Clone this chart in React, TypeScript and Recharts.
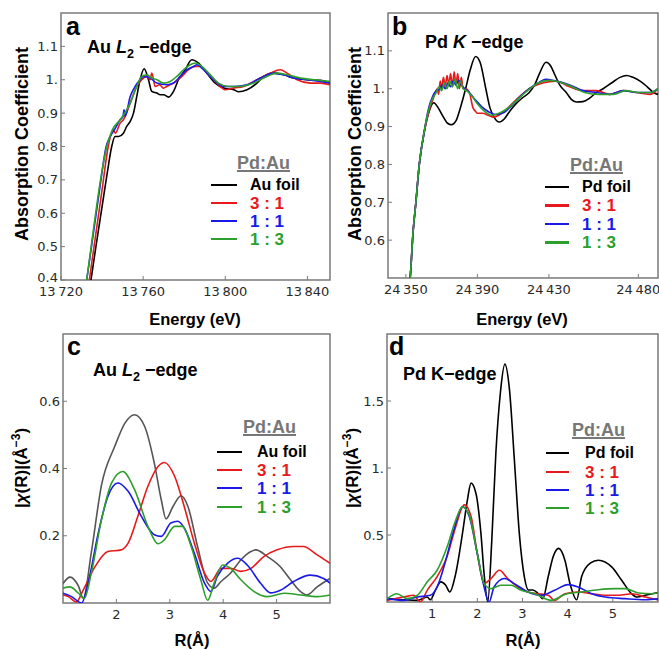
import type { ReactNode } from "react";
import { LineChart, Line, XAxis, YAxis, ReferenceArea } from "recharts";

// XANES, Au L2-edge (energy eV, normalized absorption)
const auFoilXanes = [
  [13732, 0.3], [13734.6, 0.4], [13737, 0.5], [13740, 0.62], [13742.5, 0.72], [13744.7, 0.8], [13746.3, 0.83],
  [13748, 0.83], [13750.4, 0.84], [13752, 0.86], [13753.7, 0.875], [13755.3, 0.9], [13756.9, 0.95], [13758.5, 1.0],
  [13760.5, 1.033], [13762.6, 1.0], [13764.2, 0.965], [13766.7, 0.96], [13768.3, 0.955], [13770, 0.955],
  [13772.4, 0.948], [13774.8, 0.965], [13777.2, 1.0], [13780.5, 1.03], [13783.7, 1.06], [13787, 1.05], [13791, 1.02],
  [13795.1, 0.99], [13799.2, 0.975], [13804.1, 0.97], [13806.5, 0.964], [13810.6, 0.97], [13815.4, 0.99],
  [13818.7, 1.01], [13823.6, 1.02], [13828.5, 1.015], [13833.3, 1.005], [13839.8, 1.0], [13846.3, 0.998], [13851, 0.99],
];
const au31Xanes = [
  [13731.5, 0.3], [13733.8, 0.4], [13737, 0.54], [13740, 0.67], [13743, 0.8], [13745.5, 0.85], [13746.5, 0.84],
  [13748.8, 0.87], [13750.4, 0.88], [13753.7, 0.93], [13756.9, 0.98], [13759.3, 1.0], [13761.8, 1.01],
  [13763.4, 1.0], [13764.2, 1.02], [13765.9, 0.98], [13768, 0.985], [13769.9, 0.975], [13771.5, 0.98],
  [13774.8, 0.99], [13778.9, 1.01], [13782.1, 1.03], [13785.4, 1.04], [13787.8, 1.04], [13791, 1.02],
  [13795.9, 0.99], [13800, 0.97], [13804.1, 0.975], [13808.9, 0.98], [13815.4, 1.0], [13822, 1.02],
  [13826.8, 1.03], [13830.1, 1.02], [13835, 1.0], [13841.5, 0.99], [13846.3, 0.99], [13851, 0.985],
];
const au11Xanes = [
  [13730, 0.3], [13732.5, 0.4], [13736, 0.55], [13739, 0.68], [13742, 0.8], [13744, 0.83], [13746, 0.85],
  [13748.8, 0.88], [13750.2, 0.89], [13750.7, 0.91], [13751.2, 0.89], [13753.7, 0.95], [13756.1, 0.98],
  [13758.5, 1.0], [13760.2, 1.01], [13763.4, 1.005], [13766.7, 0.99], [13771.5, 0.985], [13774.8, 0.99],
  [13778, 1.01], [13781.3, 1.03], [13784.6, 1.04], [13786.2, 1.045], [13789.4, 1.03], [13794.3, 1.0],
  [13799.2, 0.98], [13804.1, 0.98], [13810.6, 0.985], [13817.1, 1.005], [13823.6, 1.02], [13828.5, 1.015],
  [13833.3, 1.005], [13839.8, 1.0], [13846.3, 0.995], [13851, 0.99],
];
const au13Xanes = [
  [13730, 0.3], [13732.5, 0.4], [13736, 0.56], [13739, 0.69], [13742.3, 0.8], [13745, 0.85], [13748.8, 0.88],
  [13753.7, 0.93], [13756.9, 0.98], [13759.3, 1.01], [13761.8, 1.015], [13764.2, 1.005], [13766.7, 1.0],
  [13769.9, 0.99], [13773.2, 0.995], [13776.4, 1.01], [13779.7, 1.03], [13782.9, 1.045], [13785.4, 1.05],
  [13788.6, 1.04], [13791.9, 1.02], [13796.7, 0.99], [13801.6, 0.98], [13807.3, 0.98], [13813.8, 0.99],
  [13820.3, 1.01], [13825.2, 1.02], [13830.1, 1.015], [13836.6, 1.005], [13843.1, 1.0], [13851, 0.995],
];

// XANES, Pd K-edge
const pdFoilXanes = [
  [24351, 0.45], [24352.4, 0.5], [24354, 0.62], [24355.6, 0.7], [24357.5, 0.8], [24360.9, 0.9], [24363, 0.94],
  [24365.6, 0.963], [24368, 0.95], [24371, 0.925], [24373.5, 0.908], [24375.5, 0.905], [24378, 0.915],
  [24380.5, 0.95], [24383.4, 1.0], [24386, 1.05], [24389, 1.085], [24391.5, 1.07], [24394.7, 1.0], [24397, 0.95],
  [24399.3, 0.925], [24402.2, 0.912], [24405, 0.92], [24408, 0.94], [24411.5, 0.96], [24415, 0.975],
  [24419, 0.99], [24422, 1.01], [24424.7, 1.04], [24428.4, 1.07], [24431, 1.06], [24433, 1.04], [24436, 1.01],
  [24439.7, 0.99], [24442.5, 0.972], [24445.3, 0.965], [24449, 0.966], [24452.8, 0.975], [24456.5, 0.99],
  [24460.3, 1.0], [24465, 1.015], [24469.7, 1.03], [24473.5, 1.035], [24477, 1.03], [24481, 1.02],
  [24485, 1.005], [24488.5, 0.99], [24491, 0.985],
];
const pd31Xanes = [
  [24351, 0.45], [24352.4, 0.5], [24354, 0.62], [24355.6, 0.7], [24357.5, 0.8], [24360, 0.88], [24362.8, 0.94],
  [24365, 0.97], [24366.5, 0.99], [24367.5, 1.0], [24368.3, 0.985], [24369.2, 1.02], [24370, 1.0], [24371, 1.03],
  [24372, 1.005], [24373, 1.035], [24374, 1.01], [24375, 1.04], [24376, 1.005], [24377, 1.045], [24378, 1.01],
  [24379, 1.04], [24380, 1.0], [24381, 1.03], [24382, 1.0], [24383.5, 1.0], [24385.5, 0.99], [24387.5, 0.95],
  [24389, 0.94], [24390, 0.935], [24393, 0.935], [24396, 0.93], [24399, 0.925], [24402, 0.93], [24406, 0.945],
  [24411.5, 0.97], [24419, 1.0], [24426.5, 1.015], [24434, 1.02], [24441.6, 1.005], [24449, 0.995],
  [24456.6, 0.995], [24464, 0.985], [24471.6, 0.995], [24479, 0.99], [24486.6, 0.985], [24491, 1.0],
];
const pd11Xanes = [
  [24351, 0.45], [24352.4, 0.5], [24354, 0.62], [24355.6, 0.7], [24357.5, 0.8], [24360, 0.88], [24362.8, 0.95],
  [24365, 0.98], [24367, 0.995], [24369, 1.0], [24370.5, 1.01], [24372, 1.0], [24373.5, 1.015], [24375, 1.005],
  [24376.5, 1.02], [24378, 1.01], [24379.5, 1.022], [24381, 1.01], [24383, 1.0], [24385.5, 0.99], [24388, 0.975],
  [24390, 0.965], [24393, 0.95], [24396.7, 0.938], [24400, 0.932], [24404, 0.935], [24408, 0.95], [24413, 0.975],
  [24419, 1.0], [24424, 1.015], [24428, 1.025], [24434, 1.02], [24441.6, 1.01], [24449, 0.995], [24456.6, 0.99],
  [24464, 0.985], [24471.6, 0.995], [24479, 0.99], [24486.6, 0.99], [24491, 1.0],
];
const pd13Xanes = [
  [24351, 0.45], [24352.4, 0.5], [24354, 0.62], [24355.6, 0.7], [24357.5, 0.8], [24360, 0.88], [24362.8, 0.945],
  [24365, 0.975], [24367, 0.99], [24368.5, 1.005], [24370, 0.995], [24371.5, 1.015], [24373, 1.0],
  [24374.5, 1.02], [24376, 1.005], [24377.5, 1.025], [24379, 1.0], [24380.5, 1.02], [24382, 1.0], [24384, 0.995],
  [24387, 0.98], [24390, 0.96], [24394, 0.94], [24398, 0.93], [24402, 0.935], [24406, 0.945], [24411, 0.965],
  [24418, 0.995], [24424, 1.015], [24430, 1.022], [24436, 1.018], [24443, 1.005], [24450, 0.99], [24458, 0.985],
  [24466, 0.985], [24473, 0.995], [24480, 0.99], [24487, 0.99], [24491, 1.0],
];

// Fourier transforms, Au L2-edge (R in Å, |chi(R)|)
const auFoilFt = [
  [1.0, 0.058], [1.13, 0.077], [1.29, 0.05], [1.38, 0.014], [1.53, 0.15], [1.72, 0.35], [1.97, 0.466],
  [2.16, 0.535], [2.34, 0.56], [2.53, 0.525], [2.71, 0.416], [2.84, 0.307], [2.93, 0.25], [3.06, 0.287],
  [3.21, 0.319], [3.34, 0.287], [3.52, 0.168], [3.71, 0.059], [3.83, 0.044], [3.96, 0.064], [4.14, 0.089],
  [4.33, 0.128], [4.52, 0.153], [4.61, 0.158], [4.83, 0.138], [5.07, 0.108], [5.26, 0.069], [5.45, 0.034],
  [5.57, 0.024], [5.76, 0.048], [6.0, 0.073],
];
const au31Ft = [
  [1.0, 0.024], [1.1, 0.019], [1.25, 0.003], [1.38, 0.039], [1.6, 0.108], [1.84, 0.153], [2.09, 0.158],
  [2.22, 0.178], [2.4, 0.257], [2.59, 0.347], [2.78, 0.406], [2.9, 0.418], [3.09, 0.377], [3.27, 0.287],
  [3.46, 0.178], [3.65, 0.089], [3.77, 0.064], [3.96, 0.103], [4.14, 0.103], [4.33, 0.094], [4.52, 0.103],
  [4.76, 0.138], [5.01, 0.158], [5.32, 0.168], [5.5, 0.168], [5.76, 0.143], [6.0, 0.118],
];
const au11Ft = [
  [1.0, 0.029], [1.16, 0.019], [1.35, 0.0], [1.47, 0.059], [1.66, 0.208], [1.84, 0.317], [2.03, 0.357],
  [2.22, 0.332], [2.47, 0.257], [2.71, 0.203], [2.84, 0.198], [3.02, 0.238], [3.15, 0.243], [3.27, 0.223],
  [3.46, 0.148], [3.65, 0.059], [3.77, 0.034], [3.89, 0.079], [4.08, 0.118], [4.27, 0.133], [4.45, 0.113],
  [4.7, 0.059], [4.89, 0.03], [5.07, 0.038], [5.32, 0.064], [5.63, 0.083], [5.88, 0.073], [6.0, 0.059],
];
const au13Ft = [
  [1.0, 0.044], [1.13, 0.048], [1.29, 0.029], [1.4, 0.014], [1.53, 0.089], [1.72, 0.247], [1.91, 0.357],
  [2.12, 0.391], [2.34, 0.337], [2.59, 0.228], [2.78, 0.176], [2.9, 0.188], [3.09, 0.228], [3.24, 0.228],
  [3.4, 0.168], [3.58, 0.069], [3.71, 0.008], [3.83, 0.059], [3.99, 0.113], [4.14, 0.103], [4.33, 0.069],
  [4.58, 0.034], [4.83, 0.019], [5.14, 0.029], [5.45, 0.024], [5.76, 0.019], [6.0, 0.024],
];

// Fourier transforms, Pd K-edge
const pdFoilFt = [
  [0, 0.025], [0.37, 0.017], [0.67, 0.012], [0.89, 0.037], [0.96, 0.017], [1.07, 0.087], [1.19, 0.15],
  [1.3, 0.125], [1.39, 0.075], [1.52, 0.21], [1.67, 0.51], [1.78, 0.76], [1.86, 0.887], [1.97, 0.81],
  [2.08, 0.51], [2.15, 0.21], [2.23, 0.0], [2.32, 0.46], [2.41, 1.11], [2.51, 1.56], [2.61, 1.775], [2.71, 1.59],
  [2.82, 1.06], [2.93, 0.51], [3.04, 0.19], [3.13, 0.09], [3.23, 0.09], [3.34, 0.065], [3.45, 0.025],
  [3.57, 0.19], [3.68, 0.34], [3.8, 0.4], [3.94, 0.31], [4.05, 0.14], [4.2, 0.017], [4.31, 0.19], [4.5, 0.29],
  [4.68, 0.312], [4.98, 0.26], [5.2, 0.16], [5.42, 0.06], [5.54, 0.037], [5.72, 0.05], [6.06, 0.075],
];
const pd31Ft = [
  [0, 0.012], [0.37, 0.037], [0.59, 0.05], [0.74, 0.0], [0.89, 0.087], [1.11, 0.19], [1.33, 0.34], [1.52, 0.56],
  [1.71, 0.725], [1.86, 0.64], [2.0, 0.36], [2.15, 0.137], [2.3, 0.175], [2.49, 0.237], [2.67, 0.175],
  [2.9, 0.112], [3.12, 0.075], [3.34, 0.062], [3.57, 0.05], [3.71, 0.012], [3.94, 0.062], [4.23, 0.075],
  [4.53, 0.062], [4.83, 0.05], [5.13, 0.05], [5.42, 0.062], [5.72, 0.037], [6.06, 0.012],
];
const pd11Ft = [
  [0, 0.025], [0.37, 0.012], [0.67, 0.037], [0.96, 0.05], [1.11, 0.112], [1.3, 0.31], [1.48, 0.537],
  [1.67, 0.71], [1.82, 0.64], [2.0, 0.36], [2.15, 0.112], [2.26, 0.0], [2.37, 0.112], [2.6, 0.175],
  [2.82, 0.137], [3.12, 0.075], [3.42, 0.05], [3.71, 0.087], [4.01, 0.13], [4.23, 0.112], [4.53, 0.062],
  [4.83, 0.037], [5.27, 0.025], [5.72, 0.017], [6.06, 0.025],
];
const pd13Ft = [
  [0, 0.025], [0.22, 0.062], [0.44, 0.025], [0.67, 0.05], [0.89, 0.15], [1.11, 0.237], [1.33, 0.41],
  [1.52, 0.61], [1.67, 0.71], [1.82, 0.65], [2.0, 0.36], [2.15, 0.137], [2.3, 0.1], [2.52, 0.125],
  [2.75, 0.125], [2.97, 0.087], [3.27, 0.062], [3.64, 0.012], [3.94, 0.057], [4.31, 0.075], [4.68, 0.092],
  [5.05, 0.1], [5.27, 0.1], [5.57, 0.067], [5.87, 0.062], [6.06, 0.075],
];

const auXTicks = [13720, 13760, 13800, 13840];
const auYTicks = [0.4, 0.5, 0.6, 0.7, 0.8, 0.9, 1.0, 1.1];
const pdXTicks = [24350, 24390, 24430, 24480];
const pdYTicks = [0.6, 0.7, 0.8, 0.9, 1.0, 1.1];
const auRTicks = [2, 3, 4, 5];
const auFtTicks = [0.2, 0.4, 0.6];
const pdRTicks = [1, 2, 3, 4, 5];
const pdFtTicks = [0.5, 1.0, 1.5];

const ratioLabels = ["3 : 1", "1 : 1", "1 : 3"];

const RED = "#e8191b";
const BLUE = "#1a1ae8";
const GREEN = "#2c9f2c";
const FRAME = "#7a7a7a";
const BOLD = "'Liberation Sans', Arial, sans-serif";
const TICKFONT = "'DejaVu Sans', sans-serif";
const TICKCOLOR = "#2a2a2a";

const toPts = (arr: number[][]) => arr.map(([x, y]) => ({ x, y }));
const fmtEnergy = (v: number) => String(v).replace(/^(\d{2})(\d{3})$/, "$1\u2009$2");
const fmtY = (v: number) => (v === 1 ? "1." : String(v));

type Series = { data: number[][]; color: string };

// y tick label; the one sitting on the bottom corner is nudged up so it clears the x label
function YTick(props: any) {
  const { x, y, payload, bottom } = props;
  const lift = payload.value === bottom ? 3 : 0;
  return (
    <text x={x} y={y - lift} dy="0.355em" textAnchor="end" fontSize={13} fill={TICKCOLOR} fontFamily={TICKFONT}>
      {fmtY(payload.value)}
    </text>
  );
}

function Panel(props: {
  left: number;
  top: number;
  width: number;
  height: number;
  margin: { top: number; right: number; bottom: number; left: number };
  xDomain: [number, number];
  yDomain: [number, number];
  xTicks: number[];
  yTicks: number[];
  xFmt?: (v: number) => string;
  series: Series[];
}) {
  const { xDomain, yDomain } = props;
  const tickStyle = { fontSize: 13, fill: TICKCOLOR, fontFamily: TICKFONT };
  return (
    <div style={{ position: "absolute", left: props.left, top: props.top }}>
      <LineChart width={props.width} height={props.height} margin={props.margin}>
        <XAxis
          type="number"
          dataKey="x"
          domain={xDomain}
          ticks={props.xTicks}
          interval={0}
          allowDataOverflow
          axisLine={false}
          tickLine={{ stroke: FRAME }}
          tickSize={-4}
          tickMargin={11}
          height={20}
          tick={tickStyle}
          tickFormatter={props.xFmt}
        />
        <YAxis
          type="number"
          dataKey="y"
          domain={yDomain}
          ticks={props.yTicks}
          interval={0}
          allowDataOverflow
          axisLine={false}
          tickLine={{ stroke: FRAME }}
          tickSize={-4}
          tickMargin={7}
          width={40}
          tick={(p: any) => <YTick {...p} bottom={yDomain[0]} />}
        />
        {props.series.map((s, i) => (
          <Line
            key={i}
            data={toPts(s.data)}
            dataKey="y"
            type="monotone"
            stroke={s.color}
            strokeWidth={1.6}
            dot={false}
            activeDot={false}
            isAnimationActive={false}
          />
        ))}
        <ReferenceArea
          x1={xDomain[0]}
          x2={xDomain[1]}
          y1={yDomain[0]}
          y2={yDomain[1]}
          fill="none"
          stroke={FRAME}
          strokeWidth={1.5}
          fillOpacity={0}
        />
      </LineChart>
    </div>
  );
}

// text placed by its baseline (Liberation Sans metrics)
function Txt(props: { x: number; base: number; size: number; lh?: number; color?: string; children: ReactNode }) {
  const lh = props.lh ?? props.size;
  const top = props.base - ((lh - 1.117 * props.size) / 2 + 0.905 * props.size);
  return (
    <div
      style={{
        position: "absolute",
        left: props.x,
        top,
        fontSize: props.size,
        lineHeight: `${lh}px`,
        fontFamily: BOLD,
        fontWeight: 700,
        color: props.color ?? "#000",
        whiteSpace: "nowrap",
      }}
    >
      {props.children}
    </div>
  );
}

function VLabel(props: { cx: number; cy: number; size: number; children: ReactNode }) {
  return (
    <div
      style={{
        position: "absolute",
        left: props.cx,
        top: props.cy,
        transform: "translate(-50%, -50%) rotate(-90deg)",
        fontSize: props.size,
        fontFamily: BOLD,
        fontWeight: 700,
        whiteSpace: "nowrap",
        color: "#000",
      }}
    >
      {props.children}
    </div>
  );
}

function HLabel(props: { cx: number; cy: number; size: number; children: ReactNode }) {
  return (
    <div
      style={{
        position: "absolute",
        left: props.cx,
        top: props.cy,
        transform: "translate(-50%, -50%)",
        fontSize: props.size,
        fontFamily: BOLD,
        fontWeight: 700,
        whiteSpace: "nowrap",
        color: "#000",
      }}
    >
      {props.children}
    </div>
  );
}

function KeyBox(props: {
  titleX: number;
  titleY: number;
  lineX: number;
  lineW: number;
  labelX: number;
  rows: number[];
  first: string;
  firstColor: string;
}) {
  const colors = [props.firstColor, RED, BLUE, GREEN];
  const labels = [props.first, ...ratioLabels];
  return (
    <>
      <Txt x={props.titleX} base={props.titleY + 6.5} size={18} lh={17} color="#777">
        <span style={{ textDecoration: "underline", textDecorationThickness: 2 }}>Pd:Au</span>
      </Txt>
      {props.rows.map((y, i) => (
        <div key={i}>
          <div
            style={{
              position: "absolute",
              left: props.lineX,
              top: y - 1.25,
              width: props.lineW,
              height: 2.5,
              background: colors[i],
            }}
          />
          <Txt
            x={props.labelX}
            base={i === 0 ? y + 5.5 : y + 6}
            size={i === 0 ? 16 : 17}
            lh={15}
            color={i === 0 ? "#000" : colors[i]}
          >
            {labels[i]}
          </Txt>
        </div>
      ))}
    </>
  );
}

const chiLabel = (
  <span>
    |<i>χ</i>(R)|(Å<sup style={{ fontSize: "0.7em", lineHeight: 0 }}>−3</sup>)
  </span>
);

export default function App() {
  return (
    <div style={{ position: "absolute", left: 0, top: 0, width: 659, height: 650, background: "#fff", overflow: "hidden" }}>
      <Panel
        left={0}
        top={0}
        width={335}
        height={300}
        margin={{ top: 13, right: 5, bottom: 0, left: 21 }}
        xDomain={[13720, 13851]}
        yDomain={[0.4, 1.2]}
        xTicks={auXTicks}
        yTicks={auYTicks}
        xFmt={fmtEnergy}
        series={[
          { data: auFoilXanes, color: "#000" },
          { data: au31Xanes, color: RED },
          { data: au11Xanes, color: BLUE },
          { data: au13Xanes, color: GREEN },
        ]}
      />
      <Panel
        left={330}
        top={0}
        width={329}
        height={300}
        margin={{ top: 13, right: 1, bottom: 2, left: 18 }}
        xDomain={[24340, 24491]}
        yDomain={[0.5, 1.2]}
        xTicks={pdXTicks}
        yTicks={pdYTicks}
        xFmt={fmtEnergy}
        series={[
          { data: pdFoilXanes, color: "#000" },
          { data: pd31Xanes, color: RED },
          { data: pd11Xanes, color: BLUE },
          { data: pd13Xanes, color: GREEN },
        ]}
      />
      <Panel
        left={0}
        top={320}
        width={335}
        height={310}
        margin={{ top: 14, right: 5, bottom: 7, left: 23 }}
        xDomain={[1, 6]}
        yDomain={[0, 0.8]}
        xTicks={auRTicks}
        yTicks={auFtTicks}
        series={[
          { data: auFoilFt, color: "#555" },
          { data: au31Ft, color: RED },
          { data: au11Ft, color: BLUE },
          { data: au13Ft, color: GREEN },
        ]}
      />
      <Panel
        left={330}
        top={320}
        width={329}
        height={310}
        margin={{ top: 14, right: 1, bottom: 8, left: 17 }}
        xDomain={[0, 6]}
        yDomain={[0, 2]}
        xTicks={pdRTicks}
        yTicks={pdFtTicks}
        series={[
          { data: pdFoilFt, color: "#000" },
          { data: pd31Ft, color: RED },
          { data: pd11Ft, color: BLUE },
          { data: pd13Ft, color: GREEN },
        ]}
      />

      {/* panel letters and edge titles */}
      <Txt x={66} base={35} size={25}>a</Txt>
      <Txt x={392} base={35} size={25}>b</Txt>
      <Txt x={67} base={355} size={25}>c</Txt>
      <Txt x={389} base={355} size={25}>d</Txt>

      <Txt x={87} base={53} size={18}>
        Au <i>L</i>
        <sub style={{ fontSize: "0.7em", lineHeight: 0 }}>2</sub> −edge
      </Txt>
      <Txt x={425} base={48} size={18}>
        Pd <i>K</i> −edge
      </Txt>
      <Txt x={93} base={376} size={18}>
        Au <i>L</i>
        <sub style={{ fontSize: "0.7em", lineHeight: 0 }}>2</sub> −edge
      </Txt>
      <Txt x={403} base={380} size={18}>
        Pd K−edge
      </Txt>

      {/* axis titles */}
      <VLabel cx={22} cy={144} size={18}>Absorption Coefficient</VLabel>
      <VLabel cx={355} cy={144} size={18}>Absorption Coefficient</VLabel>
      <VLabel cx={22} cy={468} size={17}>{chiLabel}</VLabel>
      <VLabel cx={353} cy={468} size={17}>{chiLabel}</VLabel>
      <HLabel cx={195} cy={319} size={16.5}>Energy (eV)</HLabel>
      <HLabel cx={522} cy={319} size={16.5}>Energy (eV)</HLabel>
      <HLabel cx={192} cy={640} size={16.5}>R(Å)</HLabel>
      <HLabel cx={523} cy={640} size={16.5}>R(Å)</HLabel>

      {/* legends */}
      <KeyBox titleX={237} titleY={163} lineX={211} lineW={26} labelX={250} rows={[185, 203, 221, 239]} first="Au foil" firstColor="#000" />
      <KeyBox titleX={570} titleY={165} lineX={545} lineW={24} labelX={582} rows={[187, 205.5, 224, 242.5]} first="Pd foil" firstColor="#000" />
      <KeyBox titleX={243} titleY={427} lineX={217} lineW={25} labelX={257} rows={[452, 470, 488, 507]} first="Au foil" firstColor="#000" />
      <KeyBox titleX={572} titleY={430} lineX={546} lineW={23} labelX={585} rows={[453, 472, 490, 508]} first="Pd foil" firstColor="#000" />
    </div>
  );
}
